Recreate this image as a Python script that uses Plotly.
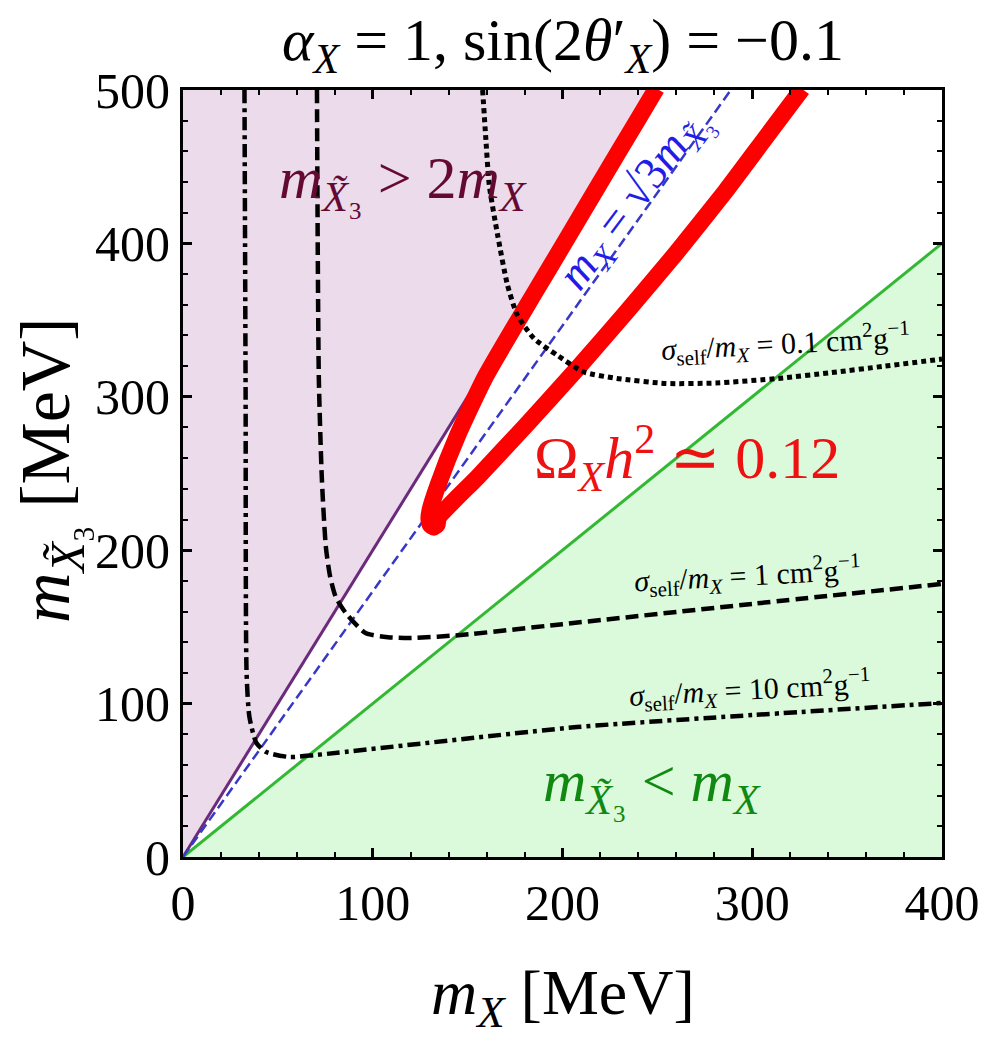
import plotly.graph_objects as go

# ---------------- data (MeV) ----------------
# region boundaries
purple_x = [0, 250, 0]
purple_y = [0, 500, 500]          # m_X3 > 2 m_X
green_x = [0, 400, 400]
green_y = [0, 400, 0]             # m_X3 < m_X
line2_x = [0, 250]
line2_y = [0, 500]
line1_x = [0, 400]
line1_y = [0, 400]
sqrt3_x = [0, 288.7]
sqrt3_y = [0, 500]

# relic density band  Omega_X h^2 ~ 0.12 (left branch from top, tip, right branch to top)
relic_x = [249.5, 248.4, 229.5, 210.7, 191.9, 178.3, 159.0, 144.8, 134.4, 130.2, 129.6, 130.4,
           132.2, 134.0, 134.4, 155.3, 181.4, 207.6, 233.7, 259.9, 286.0, 306.9, 326.3]
relic_y = [501.0, 498.7, 459.6, 420.5, 381.4, 353.3, 312.3, 275.1, 242.5, 226.2, 220.5, 216.5,
           215.0, 216.8, 221.0, 247.7, 282.3, 318.1, 355.3, 393.7, 434.2, 468.7, 500.7]

# self-interaction contours
s01_x = [157.9, 159.5, 161.4, 165.8, 171.0, 176.2, 185.0, 197.1, 211.0, 228.5, 254.6, 280.8, 313.9, 341.8, 370.0, 400.0]
s01_y = [500.0, 470.0, 438.0, 405.5, 372.9, 353.3, 338.0, 327.2, 316.3, 312.0, 308.7, 309.0, 312.0, 315.8, 320.0, 324.6]

s1_x = [70.6, 71.0, 71.6, 73.2, 75.3, 77.5, 80.5, 85.8, 96.2, 108.0, 120.3, 146.4, 200.0, 300.0, 400.0]
s1_y = [500.0, 400.0, 311.0, 245.8, 202.0, 183.0, 169.5, 159.0, 146.0, 143.3, 142.8, 144.7, 151.8, 165.0, 178.0]

s10_x = [32.4, 33.0, 33.5, 35.0, 38.7, 43.9, 56.0, 70.0, 207.6, 300.0, 400.0]
s10_y = [500.0, 300.0, 120.0, 91.3, 74.3, 68.4, 65.2, 66.5, 84.7, 92.5, 100.4]

x_ticks = [0, 100, 200, 300, 400]
y_ticks = [0, 100, 200, 300, 400, 500]

FONT = "Liberation Serif"

fig = go.Figure()

# filled regions
fig.add_trace(go.Scatter(x=purple_x, y=purple_y, fill="toself", fillcolor="#EBDBEB",
                         line=dict(width=0), mode="lines", hoverinfo="skip"))
fig.add_trace(go.Scatter(x=green_x, y=green_y, fill="toself", fillcolor="#DBFADB",
                         line=dict(width=0), mode="lines", hoverinfo="skip"))
# boundary lines
fig.add_trace(go.Scatter(x=line2_x, y=line2_y, mode="lines", line=dict(color="#6B2A7B", width=3)))
fig.add_trace(go.Scatter(x=line1_x, y=line1_y, mode="lines", line=dict(color="#33B833", width=3)))
fig.add_trace(go.Scatter(x=sqrt3_x, y=sqrt3_y, mode="lines",
                         line=dict(color="#3838C8", width=2.5, dash="10px,5px")))
# relic band
fig.add_trace(go.Scatter(x=relic_x, y=relic_y, mode="lines",
                         line=dict(color="#FF0000", width=17, shape="spline", smoothing=0.5)))
# self-interaction curves
fig.add_trace(go.Scatter(x=s01_x, y=s01_y, mode="lines",
                         line=dict(color="black", width=5, dash="5px,4px", shape="spline", smoothing=0.6)))
fig.add_trace(go.Scatter(x=s1_x, y=s1_y, mode="lines",
                         line=dict(color="black", width=4.5, dash="13px,6px", shape="spline", smoothing=0.6)))
fig.add_trace(go.Scatter(x=s10_x, y=s10_y, mode="lines",
                         line=dict(color="black", width=4.5, dash="13px,5px,4px,5px", shape="spline", smoothing=0.6)))

ann = [
    dict(x=116, y=439.4, text="<i>m</i><sub><i>X̃</i>₃</sub> > 2<i>m</i><sub><i>X</i></sub>",
         font=dict(size=60, color="#640A32")),
    dict(x=238.0, y=428.0, text="<i>m</i><sub><i>X</i></sub> = √3<i>m</i><sub><i>X̃</i>₃</sub>",
         font=dict(size=46, color="#1E1EE6"), textangle=-53),
    dict(x=265.6, y=260.1, text="Ω<sub><i>X</i></sub><i>h</i><sup>2</sup> ≃ 0.12",
         font=dict(size=60, color="#EE1111")),
    dict(x=317.4, y=335, text="<i>σ</i><sub>self</sub>/<i>m</i><sub><i>X</i></sub> = 0.1 cm<sup>2</sup>g<sup>−1</sup>",
         font=dict(size=30, color="black"), textangle=-3),
    dict(x=297.5, y=183.8, text="<i>σ</i><sub>self</sub>/<i>m</i><sub><i>X</i></sub> = 1 cm<sup>2</sup>g<sup>−1</sup>",
         font=dict(size=30, color="black"), textangle=-3),
    dict(x=298.6, y=108.9, text="<i>σ</i><sub>self</sub>/<i>m</i><sub><i>X</i></sub> = 10 cm<sup>2</sup>g<sup>−1</sup>",
         font=dict(size=30, color="black"), textangle=-3),
    dict(x=247.3, y=46.9, text="<i>m</i><sub><i>X̃</i>₃</sub> < <i>m</i><sub><i>X</i></sub>",
         font=dict(size=60, color="#118811")),
]
for a in ann:
    a.update(xref="x", yref="y", showarrow=False, xanchor="center", yanchor="middle")
    a["font"]["family"] = FONT
    fig.add_annotation(**a)

# titles as paper annotations
fig.add_annotation(x=0.5, y=1.0587, xref="paper", yref="paper", showarrow=False,
                   text="<i>α</i><sub><i>X</i></sub> = 1, sin(2<i>θ</i>′<sub><i>X</i></sub>) = −0.1",
                   font=dict(family=FONT, size=60, color="black"), xanchor="center", yanchor="middle")
fig.add_annotation(x=0.5, y=-0.1825, xref="paper", yref="paper", showarrow=False,
                   text="<i>m</i><sub><i>X</i></sub> [MeV]",
                   font=dict(family=FONT, size=64, color="black"), xanchor="center", yanchor="middle")
fig.add_annotation(x=-0.174, y=0.5046, xref="paper", yref="paper", showarrow=False,
                   text="<i>m</i><sub><i>X̃</i>₃</sub> [MeV]", textangle=-90,
                   font=dict(family=FONT, size=70, color="black"), xanchor="center", yanchor="middle")

axis_common = dict(showgrid=False, zeroline=False, showline=True, linecolor="black", linewidth=3,
                   mirror="ticks", ticks="inside", ticklen=9, tickwidth=2.5, tickcolor="black",
                   tickfont=dict(family=FONT, size=50, color="black"),
                   minor=dict(ticks="inside", ticklen=5, tickwidth=2, tickcolor="black", dtick=20))
fig.update_xaxes(range=[0, 400], tickvals=x_ticks, **axis_common)
fig.update_yaxes(range=[0, 500], tickvals=y_ticks, **axis_common)

fig.update_layout(width=992, height=1042, showlegend=False,
                  margin=dict(l=183, r=44, t=90, b=185),
                  plot_bgcolor="white", paper_bgcolor="white")

fig.write_html("out.html")
